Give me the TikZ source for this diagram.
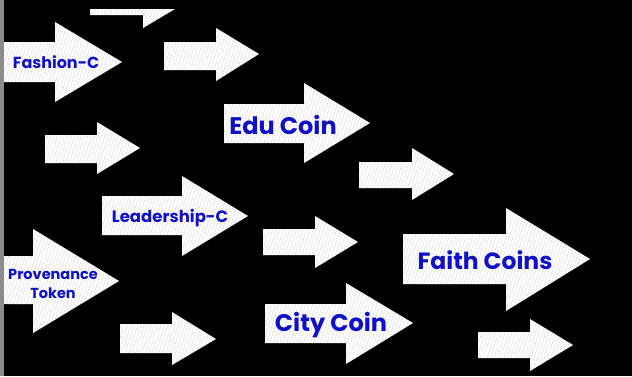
\documentclass[tikz,border=0pt]{standalone}
\usepackage{fontspec}
\setmainfont{Poppins}
\usetikzlibrary{patterns.meta}
\definecolor{txtblue}{HTML}{1010C4}
\definecolor{stripgray}{HTML}{8C8C8C}
\tikzset{
  arrowshape/.style={fill=white, draw=none,
    postaction={pattern={Lines[angle=72,distance=3.2pt,line width=0.25pt]}, pattern color=black!22}},
  lbl/.style={text=txtblue, font=\bfseries, inner sep=0pt, align=center}
}
\begin{document}
\begin{tikzpicture}[x=1pt,y=-1pt]
\fill[black] (0,0) rectangle (632,376);
\useasboundingbox (0,0) rectangle (632,376);
% top (cut) arrow
\path[arrowshape] (90,9) -- (175,9) -- (143,28) -- (143,15) -- (90,15) -- cycle;
% generic arrows: x0,x1,x2 / shaft top,bottom / head top,bottom / tip y
\foreach \xa/\xb/\xc/\sa/\sb/\ha/\hb/\ty in {
  3/55/122/42/82/22/102/62,
  164/216/259/42/70/28/81/54,
  224/304/370/104/143/83/163/123,
  45/97/140/135/163/122/174/148,
  359/412/454/162/188/148/200/174,
  102/182/248/196/235/176/256/216,
  3/33/119/256/304/229/333/281,
  120/172/216/324/353/312/365/339,
  263/315/358/229/255/216/268/242,
  265/346/413/304/343/283/364/323,
  403/506/590/234/284/208/311/259,
  478/530/573/332/358/319/371/345}
{
  \path[arrowshape] (\xa,\sa) -- (\xb,\sa) -- (\xb,\ha) -- (\xc,\ty) -- (\xb,\hb) -- (\xb,\sb) -- (\xa,\sb) -- cycle;
}
\fill[stripgray] (0,0) rectangle (3.5,376);
% labels
\node[lbl, font=\bfseries\fontsize{16}{18}\selectfont] (fashion) at (56,62) {Fashion-C};
\node[lbl, font=\bfseries\fontsize{24}{28}\selectfont] (edu) at (283,125) {Edu Coin};
\node[lbl, font=\bfseries\fontsize{16.5}{19}\selectfont] (lead) at (170,218) {Leadership-C};
\node[lbl, font=\bfseries\fontsize{14.5}{19}\selectfont] (prov) at (53,284) {Provenance\\Token};
\node[lbl, font=\bfseries\fontsize{24}{28}\selectfont] (city) at (331,325) {City Coin};
\node[lbl, font=\bfseries\fontsize{23.5}{28}\selectfont] (faith) at (485,260) {Faith Coins};
\end{tikzpicture}
\end{document}
